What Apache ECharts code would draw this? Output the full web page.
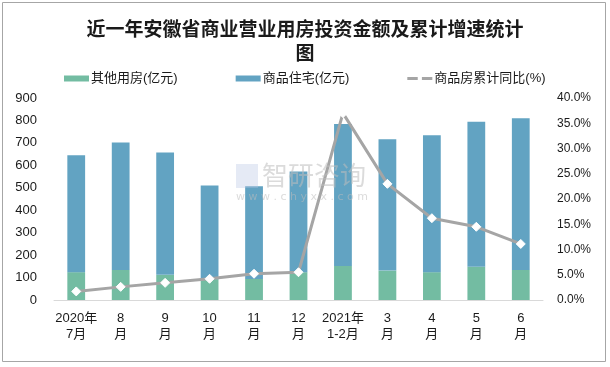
<!DOCTYPE html>
<html>
<head>
<meta charset="utf-8">
<script src="https://cdn.jsdelivr.net/npm/echarts@6/dist/echarts.min.js"></script>
<style>html,body{margin:0;padding:0;background:#fff}#c{width:610px;height:367px}</style>
</head>
<body>
<div id="c"></div>
<script>
const categories = ['2020年\n7月', '8\n月', '9\n月', '10\n月', '11\n月', '12\n月', '2021年\n1-2月', '3\n月', '4\n月', '5\n月', '6\n月'];
const otherValues = [124, 134, 112, 93, 94, 124, 152, 131, 124, 148, 134];
const residentialValues = [521, 568, 545, 417, 413, 448, 632, 585, 610, 646, 676];
const growthValues = [1.7, 2.6, 3.4, 4.2, 5.2, 5.5, 37.0, 23.0, 16.2, 14.5, 11.1];
const seriesNames = ['其他用房(亿元)', '商品住宅(亿元)', '商品房累计同比(%)'];

const font = '"Liberation Sans", "Noto Sans CJK SC", sans-serif';
const chart = echarts.init(document.getElementById('c'), null, {renderer: 'canvas'});
chart.setOption({
  animation: false,
  backgroundColor: '#fff',
  title: {
    text: '近一年安徽省商业营业用房投资金额及累计增速统计\n图',
    left: 'center',
    top: 17,
    padding: [0, 0, 0, 20],
    textStyle: {fontFamily: '"Noto Sans CJK SC", serif', fontWeight: 'bold', fontSize: 19, lineHeight: 24, color: '#1a1a1a'}
  },
  legend: {
    top: 67,
    left: 59,
    itemGap: 58,
    itemWidth: 25,
    itemHeight: 6,
    textStyle: {fontFamily: font, fontSize: 13, color: '#1a1a1a', padding: [0, 0, 0, -3]},
    data: [
      {name: seriesNames[0], icon: 'rect'},
      {name: seriesNames[1], icon: 'rect'},
      {name: seriesNames[2], icon: 'path://M0,0h10v3h-10z M14,0h10v3h-10z', itemStyle: {color: '#a5a5a5', borderColor: '#a5a5a5'}}
    ]
  },
  grid: {left: 54, right: 67, top: 98, bottom: 67},
  xAxis: {
    type: 'category',
    data: categories,
    axisLine: {lineStyle: {color: '#d9d9d9'}},
    axisTick: {show: false},
    axisLabel: {fontFamily: font, fontSize: 13, lineHeight: 16, color: '#1a1a1a', margin: 10, interval: 0}
  },
  yAxis: [
    {
      type: 'value', min: 0, max: 900, interval: 100,
      splitLine: {show: false}, axisLine: {show: false}, axisTick: {show: false},
      axisLabel: {fontFamily: font, fontSize: 13, color: '#1a1a1a', margin: 17}
    },
    {
      type: 'value', min: 0, max: 40, interval: 5,
      splitLine: {show: false}, axisLine: {show: false}, axisTick: {show: false},
      axisLabel: {fontFamily: font, fontSize: 12, color: '#1a1a1a', margin: 14, formatter: v => v.toFixed(1) + '%'}
    }
  ],
  series: [
    {
      name: seriesNames[0], type: 'bar', stack: 'a', data: otherValues, barWidth: '40%',
      itemStyle: {color: '#73bca2'}
    },
    {
      name: seriesNames[1], type: 'bar', stack: 'a', data: residentialValues, barWidth: '40%',
      itemStyle: {color: '#62a3c2'}
    },
    {
      name: seriesNames[2], type: 'line', yAxisIndex: 1, data: growthValues, z: 5,
      lineStyle: {color: '#a5a5a5', width: 3},
      itemStyle: {color: '#ffffff', borderColor: '#ffffff'},
      symbol: 'diamond', symbolSize: 9,
      emphasis: {disabled: true}
    }
  ],
  graphic: [
    {type: 'rect', shape: {x: 2.5, y: 2.5, width: 603, height: 359}, style: {fill: 'none', stroke: '#a6a6a6', lineWidth: 1}, z: 100},
    {type: 'text', x: 262, y: 162, z: 50, style: {text: '智研咨询', font: '26px "Noto Sans CJK SC"', fill: 'rgba(190,190,190,0.55)'}},
    {type: 'text', x: 236, y: 192, z: 50, style: {text: 'w w w . c h y x x . c o m', font: '11px "DejaVu Sans"', fill: 'rgba(190,190,190,0.55)'}},
    {type: 'rect', z: 50, shape: {x: 236, y: 164, width: 22, height: 24}, style: {fill: 'rgba(180,195,225,0.35)'}}
  ]
});
</script>
</body>
</html>
